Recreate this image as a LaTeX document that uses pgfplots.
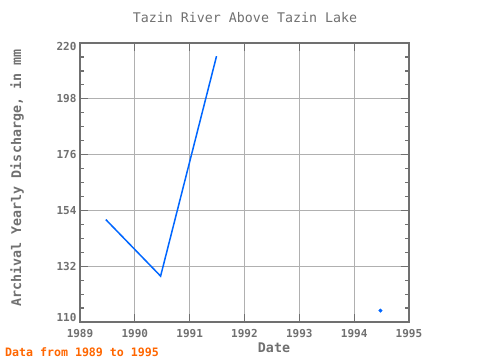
\documentclass[border=0pt]{standalone}
\usepackage{pgfplots}
\pgfplotsset{compat=1.18}
\usepackage{fontspec}
\setmainfont{DejaVu Sans Mono}
\definecolor{txtgray}{HTML}{707070}
\definecolor{axgray}{HTML}{707070}
\definecolor{gridgray}{HTML}{B0B0B0}
\definecolor{lineblue}{HTML}{0066FF}
\definecolor{footorange}{HTML}{FF6600}
\newcommand{\yl}[2]{\raisebox{#1pt}[0pt][0pt]{#2}}
\begin{document}
\begin{tikzpicture}[x=1pt,y=1pt]
\path[use as bounding box] (0,0) rectangle (480,360);
\begin{axis}[
  at={(80pt,38pt)}, anchor=south west,
  width=329pt, height=279pt, scale only axis,
  xmin=1989, xmax=1995, ymin=110, ymax=220,
  xtick={1989,1990,...,1995}, ytick={110,132,154,176,198,220},
  yticklabels={\yl{1}{110},\yl{-4}{132},\yl{-4}{154},\yl{-4}{176},\yl{-4}{198},\yl{-7.7}{220}},
  minor x tick num=5, minor y tick num=3,
  /pgf/number format/assume math mode=true,
  tick label style={font=\fontsize{11}{11}\selectfont\bfseries, text=txtgray},
  xticklabel style={/pgf/number format/1000 sep={}, yshift=-4pt},
  tick align=inside,
  major tick length=8pt, minor tick length=4pt,
  every tick/.style={axgray, line width=1.2pt},
  axis line style={axgray, line width=1.8pt},
  grid=major, major grid style={gridgray, line width=0.8pt},
  clip=false,
]
\addplot[lineblue, line width=1.5pt, mark=none] coordinates {
  (1989.47,150.4) (1990.47,128.1) (1991.49,214.8)
};
\addplot[lineblue, only marks, mark=*, mark size=1.8pt] coordinates {
  (1994.48,114.5)
};
\end{axis}
\node[text=txtgray, font=\fontsize{13.3}{13.3}\selectfont] at (245,342) {Tazin River Above Tazin Lake};
\node[text=txtgray, font=\fontsize{13.3}{13.3}\selectfont\bfseries] at (274,12) {Date};
\node[text=txtgray, font=\fontsize{13.3}{13.3}\selectfont\bfseries, rotate=90] at (17,182) {Archival Yearly Discharge, in mm};
\node[text=footorange, font=\fontsize{11.6}{11.6}\selectfont\bfseries, anchor=west, inner sep=0pt] at (5,8) {Data from 1989 to 1995};
\end{tikzpicture}
\end{document}
